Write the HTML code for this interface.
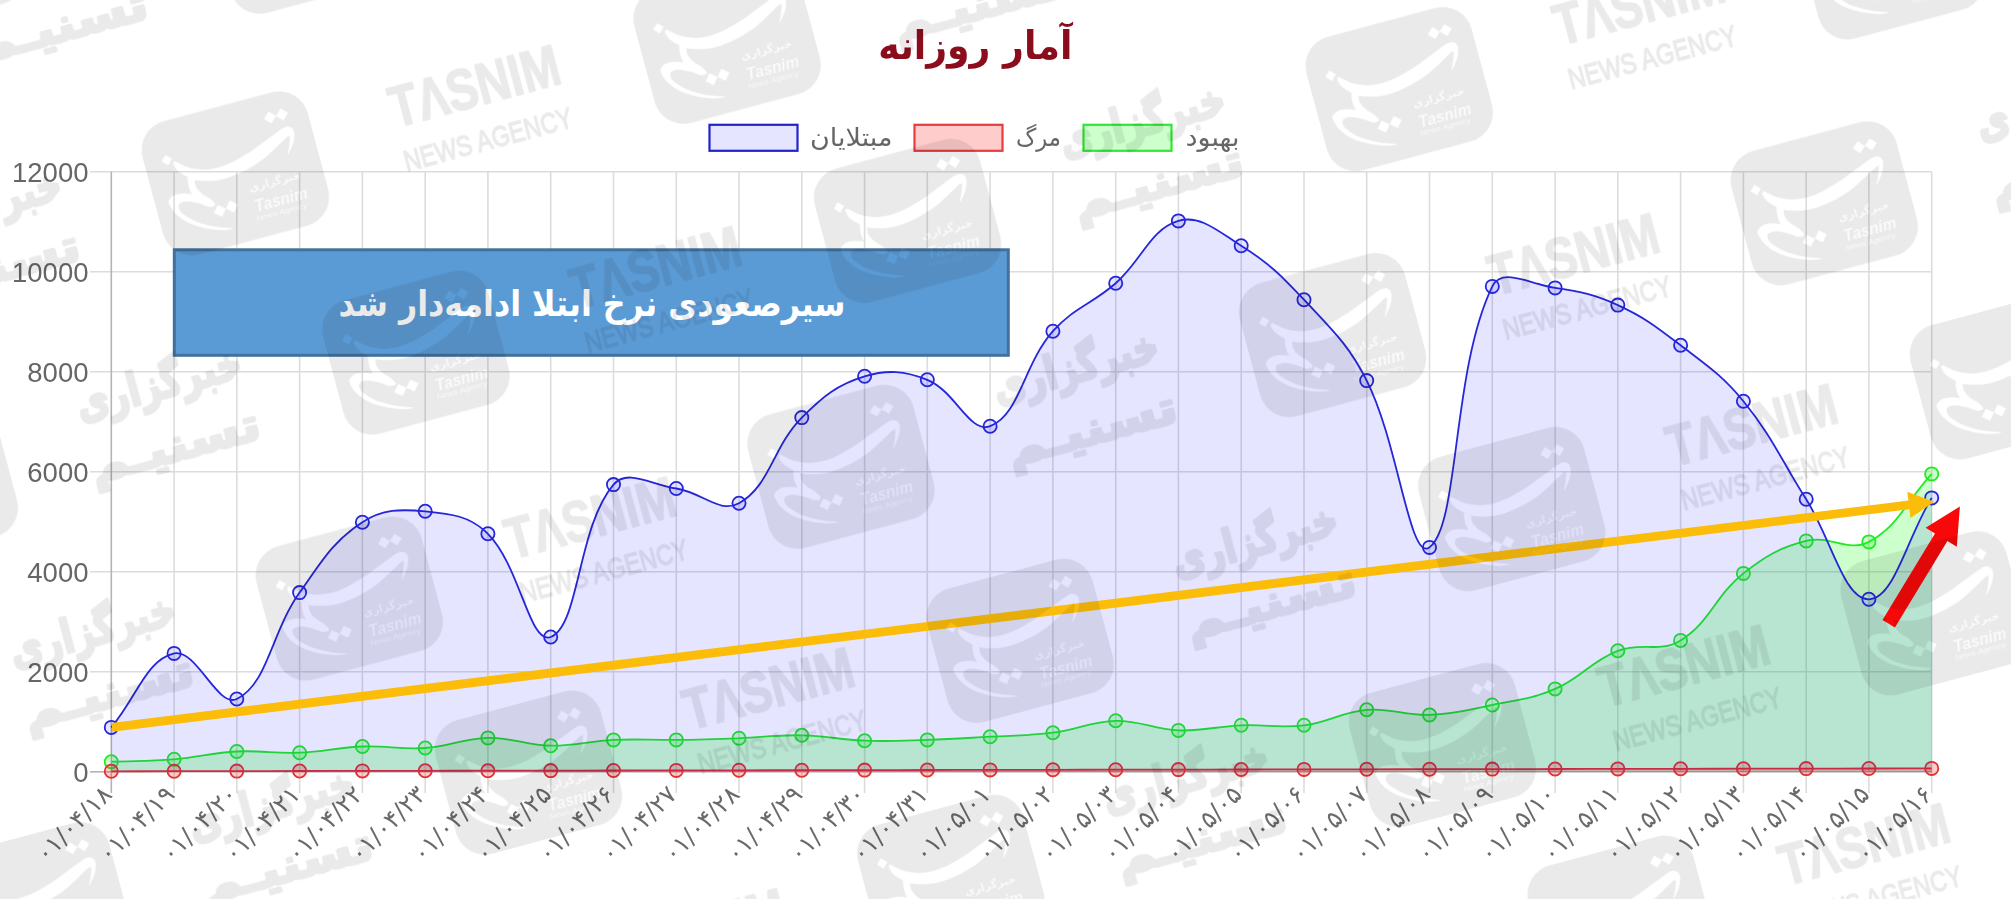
<!DOCTYPE html>
<html lang="fa"><head><meta charset="utf-8"><title>آمار روزانه</title>
<style>html,body{margin:0;padding:0;background:#fff;overflow:hidden}svg{display:block}text{font-family:"Liberation Sans","DejaVu Sans",sans-serif}.fa{font-family:"DejaVu Sans","Liberation Sans",sans-serif}</style></head><body>
<svg width="2011" height="899" viewBox="0 0 2011 899">
<rect width="2011" height="899" fill="#fff"/>
<defs>
<mask id="lm" maskUnits="userSpaceOnUse" x="-95" y="-80" width="190" height="160"><rect x="-95" y="-80" width="190" height="160" fill="#fff"/><g fill="#000" stroke="none"><path d="M-55.4 -27.3C-53.1 -26.5 -48.2 -20.5 -43.4 -17.8C-38.6 -15.2 -32.8 -12.4 -26.5 -11.3C-20.3 -10.1 -13.4 -10.0 -5.9 -10.9C1.6 -11.8 10.6 -14.4 18.5 -16.8C26.4 -19.2 35.0 -23.1 41.6 -25.5C48.1 -28.0 53.7 -30.8 57.7 -31.6C61.6 -32.4 63.7 -31.7 65.3 -30.6C66.9 -29.5 67.7 -27.4 67.5 -24.8C67.3 -22.2 66.0 -18.4 64.0 -15.0C62.0 -11.6 56.3 -4.5 55.6 -4.4C54.8 -4.2 58.6 -11.3 59.6 -14.1C60.7 -16.9 62.0 -20.0 62.0 -21.3C62.0 -22.6 62.2 -23.0 59.7 -21.9C57.2 -20.9 52.3 -17.7 47.0 -15.0C41.7 -12.2 34.8 -8.1 27.9 -5.6C21.0 -3.0 12.8 -0.8 5.6 0.5C-1.7 1.8 -9.1 2.5 -15.6 2.2C-22.1 2.0 -28.7 0.1 -33.3 -1.3C-38.0 -2.6 -40.1 -3.7 -43.5 -6.0C-46.8 -8.4 -51.1 -12.6 -53.4 -15.3C-55.7 -18.1 -56.7 -20.6 -57.1 -22.5C-57.4 -24.5 -57.7 -28.1 -55.4 -27.3Z M-46.8 -9.0C-45.6 -10.7 -41.9 -9.4 -41.0 -7.5C-40.1 -5.6 -42.1 -0.7 -41.6 2.3C-41.0 5.4 -39.2 8.2 -37.6 10.7C-35.9 13.1 -33.3 14.7 -31.6 17.0C-29.9 19.4 -27.0 23.4 -27.5 24.8C-27.9 26.2 -32.1 26.5 -34.3 25.4C-36.5 24.3 -38.6 20.5 -40.6 18.1C-42.6 15.8 -44.8 14.1 -46.1 11.5C-47.4 8.9 -48.3 6.0 -48.5 2.6C-48.6 -0.9 -48.1 -7.3 -46.8 -9.0Z M-71.3 8.9C-70.2 7.4 -67.7 5.9 -65.2 5.3C-62.6 4.8 -59.4 4.9 -55.9 5.7C-52.5 6.5 -48.2 8.3 -44.7 10.2C-41.2 12.1 -37.8 14.5 -35.1 16.9C-32.5 19.3 -29.0 23.0 -28.8 24.4C-28.6 25.8 -31.5 26.3 -33.9 25.5C-36.3 24.7 -39.7 21.4 -43.1 19.6C-46.4 17.7 -51.0 15.3 -54.1 14.5C-57.3 13.8 -60.7 13.9 -62.2 15.1C-63.7 16.2 -63.9 19.1 -63.2 21.4C-62.6 23.7 -60.6 26.3 -58.0 29.0C-55.5 31.8 -52.4 35.0 -48.0 37.9C-43.6 40.9 -37.0 44.4 -31.7 46.8C-26.4 49.3 -17.1 51.9 -16.3 52.6C-15.5 53.4 -22.2 52.8 -26.7 51.5C-31.3 50.2 -38.3 47.6 -43.6 44.9C-48.9 42.2 -54.6 38.6 -58.6 35.1C-62.7 31.6 -65.9 27.4 -68.0 23.8C-70.2 20.3 -71.1 16.5 -71.6 14.0C-72.2 11.5 -72.4 10.3 -71.3 8.9Z M-57.4 -30.7L-62.8 -25.3L-68.2 -30.7L-62.8 -36.1Z M54.1 -45.1L47.8 -39.0L41.7 -45.3L48.0 -51.4Z M66.5 -44.9L60.1 -38.8L54.0 -45.1L60.4 -51.2Z M-18.3 31.6L-24.1 38.5L-31.1 32.7L-25.2 25.8Z M-5.6 30.4L-11.4 37.4L-18.3 31.6L-12.5 24.6Z"/><g fill="#333"><text class="fa" x="35.9" y="21.9" font-size="11" font-weight="bold" text-anchor="middle">خبرگزاری</text><text x="37.3" y="42.9" font-size="17" font-weight="bold" font-style="italic" text-anchor="middle" textLength="54" lengthAdjust="spacingAndGlyphs">Tasnim</text><text x="34.7" y="51.1" font-size="8" font-style="italic" text-anchor="middle" textLength="52" lengthAdjust="spacingAndGlyphs">News Agency</text></g></g></mask>
<g id="lg"><path mask="url(#lm)" stroke="none" d="M-55.5 -69.0H55.5A30 30 0 0 1 85.5 -39.0V39.0A30 30 0 0 1 55.5 69.0H-55.5A30 30 0 0 1 -85.5 39.0V-39.0A30 30 0 0 1 -55.5 -69.0Z"/></g>
<g id="en" stroke-linejoin="round"><text x="-83" y="-2" font-size="58" font-weight="bold" textLength="174" lengthAdjust="spacingAndGlyphs" stroke-width="1.6">TΛSNIM</text><text x="-83.5" y="43" font-size="29.5" textLength="173.5" lengthAdjust="spacingAndGlyphs" stroke-width="1.3">NEWS AGENCY</text></g>
<g id="pe" class="fa" font-weight="bold" font-size="46" stroke-width="3" stroke-linejoin="round"><text x="-1" y="-21" text-anchor="middle" textLength="170" lengthAdjust="spacingAndGlyphs">خبرگزاری</text><text x="-1.5" y="43" text-anchor="middle" textLength="175" lengthAdjust="spacingAndGlyphs">تسنیـم</text></g>
<filter id="softw" x="-400" y="-100" width="2800" height="1700" filterUnits="userSpaceOnUse"><feGaussianBlur stdDeviation="0.7"/></filter></defs>
<filter id="soft" x="0" y="0" width="2011" height="899" filterUnits="userSpaceOnUse"><feGaussianBlur stdDeviation="0.6"/></filter>
<g id="chart" filter="url(#soft)">
<line x1="90" y1="771.8" x2="1931.7" y2="771.8" stroke="#dcdcdc" stroke-width="1.6"/>
<line x1="90" y1="671.8" x2="1931.7" y2="671.8" stroke="#dcdcdc" stroke-width="1.6"/>
<line x1="90" y1="571.8" x2="1931.7" y2="571.8" stroke="#dcdcdc" stroke-width="1.6"/>
<line x1="90" y1="471.8" x2="1931.7" y2="471.8" stroke="#dcdcdc" stroke-width="1.6"/>
<line x1="90" y1="371.8" x2="1931.7" y2="371.8" stroke="#dcdcdc" stroke-width="1.6"/>
<line x1="90" y1="271.8" x2="1931.7" y2="271.8" stroke="#dcdcdc" stroke-width="1.6"/>
<line x1="90" y1="171.8" x2="1931.7" y2="171.8" stroke="#dcdcdc" stroke-width="1.6"/>
<line x1="111.3" y1="171.8" x2="111.3" y2="793" stroke="#b4b4b4" stroke-width="1.6"/>
<line x1="174.1" y1="171.8" x2="174.1" y2="793" stroke="#dcdcdc" stroke-width="1.6"/>
<line x1="236.8" y1="171.8" x2="236.8" y2="793" stroke="#dcdcdc" stroke-width="1.6"/>
<line x1="299.6" y1="171.8" x2="299.6" y2="793" stroke="#dcdcdc" stroke-width="1.6"/>
<line x1="362.4" y1="171.8" x2="362.4" y2="793" stroke="#dcdcdc" stroke-width="1.6"/>
<line x1="425.2" y1="171.8" x2="425.2" y2="793" stroke="#dcdcdc" stroke-width="1.6"/>
<line x1="487.9" y1="171.8" x2="487.9" y2="793" stroke="#dcdcdc" stroke-width="1.6"/>
<line x1="550.7" y1="171.8" x2="550.7" y2="793" stroke="#dcdcdc" stroke-width="1.6"/>
<line x1="613.5" y1="171.8" x2="613.5" y2="793" stroke="#dcdcdc" stroke-width="1.6"/>
<line x1="676.3" y1="171.8" x2="676.3" y2="793" stroke="#dcdcdc" stroke-width="1.6"/>
<line x1="739.0" y1="171.8" x2="739.0" y2="793" stroke="#dcdcdc" stroke-width="1.6"/>
<line x1="801.8" y1="171.8" x2="801.8" y2="793" stroke="#dcdcdc" stroke-width="1.6"/>
<line x1="864.6" y1="171.8" x2="864.6" y2="793" stroke="#dcdcdc" stroke-width="1.6"/>
<line x1="927.3" y1="171.8" x2="927.3" y2="793" stroke="#dcdcdc" stroke-width="1.6"/>
<line x1="990.1" y1="171.8" x2="990.1" y2="793" stroke="#dcdcdc" stroke-width="1.6"/>
<line x1="1052.9" y1="171.8" x2="1052.9" y2="793" stroke="#dcdcdc" stroke-width="1.6"/>
<line x1="1115.7" y1="171.8" x2="1115.7" y2="793" stroke="#dcdcdc" stroke-width="1.6"/>
<line x1="1178.4" y1="171.8" x2="1178.4" y2="793" stroke="#dcdcdc" stroke-width="1.6"/>
<line x1="1241.2" y1="171.8" x2="1241.2" y2="793" stroke="#dcdcdc" stroke-width="1.6"/>
<line x1="1304.0" y1="171.8" x2="1304.0" y2="793" stroke="#dcdcdc" stroke-width="1.6"/>
<line x1="1366.7" y1="171.8" x2="1366.7" y2="793" stroke="#dcdcdc" stroke-width="1.6"/>
<line x1="1429.5" y1="171.8" x2="1429.5" y2="793" stroke="#dcdcdc" stroke-width="1.6"/>
<line x1="1492.3" y1="171.8" x2="1492.3" y2="793" stroke="#dcdcdc" stroke-width="1.6"/>
<line x1="1555.1" y1="171.8" x2="1555.1" y2="793" stroke="#dcdcdc" stroke-width="1.6"/>
<line x1="1617.8" y1="171.8" x2="1617.8" y2="793" stroke="#dcdcdc" stroke-width="1.6"/>
<line x1="1680.6" y1="171.8" x2="1680.6" y2="793" stroke="#dcdcdc" stroke-width="1.6"/>
<line x1="1743.4" y1="171.8" x2="1743.4" y2="793" stroke="#dcdcdc" stroke-width="1.6"/>
<line x1="1806.2" y1="171.8" x2="1806.2" y2="793" stroke="#dcdcdc" stroke-width="1.6"/>
<line x1="1868.9" y1="171.8" x2="1868.9" y2="793" stroke="#dcdcdc" stroke-width="1.6"/>
<line x1="1931.7" y1="171.8" x2="1931.7" y2="793" stroke="#dcdcdc" stroke-width="1.6"/>
<line x1="90" y1="771.8" x2="1931.7" y2="771.8" stroke="#b4b4b4" stroke-width="1.6"/>
<text x="88.5" y="781.5" font-size="27.5" fill="#666" text-anchor="end">0</text>
<text x="88.5" y="681.5" font-size="27.5" fill="#666" text-anchor="end">2000</text>
<text x="88.5" y="581.5" font-size="27.5" fill="#666" text-anchor="end">4000</text>
<text x="88.5" y="481.5" font-size="27.5" fill="#666" text-anchor="end">6000</text>
<text x="88.5" y="381.5" font-size="27.5" fill="#666" text-anchor="end">8000</text>
<text x="88.5" y="281.5" font-size="27.5" fill="#666" text-anchor="end">10000</text>
<text x="88.5" y="181.5" font-size="27.5" fill="#666" text-anchor="end">12000</text>
<text class="fa" transform="translate(107.3 790) rotate(-45)" font-size="24.5" letter-spacing="0.6" fill="#6a6a6a" text-anchor="end" dominant-baseline="central" direction="ltr">۰۱/۰۴/۱۸</text>
<text class="fa" transform="translate(170.1 790) rotate(-45)" font-size="24.5" letter-spacing="0.6" fill="#6a6a6a" text-anchor="end" dominant-baseline="central" direction="ltr">۰۱/۰۴/۱۹</text>
<text class="fa" transform="translate(232.8 790) rotate(-45)" font-size="24.5" letter-spacing="0.6" fill="#6a6a6a" text-anchor="end" dominant-baseline="central" direction="ltr">۰۱/۰۴/۲۰</text>
<text class="fa" transform="translate(295.6 790) rotate(-45)" font-size="24.5" letter-spacing="0.6" fill="#6a6a6a" text-anchor="end" dominant-baseline="central" direction="ltr">۰۱/۰۴/۲۱</text>
<text class="fa" transform="translate(358.4 790) rotate(-45)" font-size="24.5" letter-spacing="0.6" fill="#6a6a6a" text-anchor="end" dominant-baseline="central" direction="ltr">۰۱/۰۴/۲۲</text>
<text class="fa" transform="translate(421.2 790) rotate(-45)" font-size="24.5" letter-spacing="0.6" fill="#6a6a6a" text-anchor="end" dominant-baseline="central" direction="ltr">۰۱/۰۴/۲۳</text>
<text class="fa" transform="translate(483.9 790) rotate(-45)" font-size="24.5" letter-spacing="0.6" fill="#6a6a6a" text-anchor="end" dominant-baseline="central" direction="ltr">۰۱/۰۴/۲۴</text>
<text class="fa" transform="translate(546.7 790) rotate(-45)" font-size="24.5" letter-spacing="0.6" fill="#6a6a6a" text-anchor="end" dominant-baseline="central" direction="ltr">۰۱/۰۴/۲۵</text>
<text class="fa" transform="translate(609.5 790) rotate(-45)" font-size="24.5" letter-spacing="0.6" fill="#6a6a6a" text-anchor="end" dominant-baseline="central" direction="ltr">۰۱/۰۴/۲۶</text>
<text class="fa" transform="translate(672.3 790) rotate(-45)" font-size="24.5" letter-spacing="0.6" fill="#6a6a6a" text-anchor="end" dominant-baseline="central" direction="ltr">۰۱/۰۴/۲۷</text>
<text class="fa" transform="translate(735.0 790) rotate(-45)" font-size="24.5" letter-spacing="0.6" fill="#6a6a6a" text-anchor="end" dominant-baseline="central" direction="ltr">۰۱/۰۴/۲۸</text>
<text class="fa" transform="translate(797.8 790) rotate(-45)" font-size="24.5" letter-spacing="0.6" fill="#6a6a6a" text-anchor="end" dominant-baseline="central" direction="ltr">۰۱/۰۴/۲۹</text>
<text class="fa" transform="translate(860.6 790) rotate(-45)" font-size="24.5" letter-spacing="0.6" fill="#6a6a6a" text-anchor="end" dominant-baseline="central" direction="ltr">۰۱/۰۴/۳۰</text>
<text class="fa" transform="translate(923.3 790) rotate(-45)" font-size="24.5" letter-spacing="0.6" fill="#6a6a6a" text-anchor="end" dominant-baseline="central" direction="ltr">۰۱/۰۴/۳۱</text>
<text class="fa" transform="translate(986.1 790) rotate(-45)" font-size="24.5" letter-spacing="0.6" fill="#6a6a6a" text-anchor="end" dominant-baseline="central" direction="ltr">۰۱/۰۵/۰۱</text>
<text class="fa" transform="translate(1048.9 790) rotate(-45)" font-size="24.5" letter-spacing="0.6" fill="#6a6a6a" text-anchor="end" dominant-baseline="central" direction="ltr">۰۱/۰۵/۰۲</text>
<text class="fa" transform="translate(1111.7 790) rotate(-45)" font-size="24.5" letter-spacing="0.6" fill="#6a6a6a" text-anchor="end" dominant-baseline="central" direction="ltr">۰۱/۰۵/۰۳</text>
<text class="fa" transform="translate(1174.4 790) rotate(-45)" font-size="24.5" letter-spacing="0.6" fill="#6a6a6a" text-anchor="end" dominant-baseline="central" direction="ltr">۰۱/۰۵/۰۴</text>
<text class="fa" transform="translate(1237.2 790) rotate(-45)" font-size="24.5" letter-spacing="0.6" fill="#6a6a6a" text-anchor="end" dominant-baseline="central" direction="ltr">۰۱/۰۵/۰۵</text>
<text class="fa" transform="translate(1300.0 790) rotate(-45)" font-size="24.5" letter-spacing="0.6" fill="#6a6a6a" text-anchor="end" dominant-baseline="central" direction="ltr">۰۱/۰۵/۰۶</text>
<text class="fa" transform="translate(1362.7 790) rotate(-45)" font-size="24.5" letter-spacing="0.6" fill="#6a6a6a" text-anchor="end" dominant-baseline="central" direction="ltr">۰۱/۰۵/۰۷</text>
<text class="fa" transform="translate(1425.5 790) rotate(-45)" font-size="24.5" letter-spacing="0.6" fill="#6a6a6a" text-anchor="end" dominant-baseline="central" direction="ltr">۰۱/۰۵/۰۸</text>
<text class="fa" transform="translate(1488.3 790) rotate(-45)" font-size="24.5" letter-spacing="0.6" fill="#6a6a6a" text-anchor="end" dominant-baseline="central" direction="ltr">۰۱/۰۵/۰۹</text>
<text class="fa" transform="translate(1551.1 790) rotate(-45)" font-size="24.5" letter-spacing="0.6" fill="#6a6a6a" text-anchor="end" dominant-baseline="central" direction="ltr">۰۱/۰۵/۱۰</text>
<text class="fa" transform="translate(1613.8 790) rotate(-45)" font-size="24.5" letter-spacing="0.6" fill="#6a6a6a" text-anchor="end" dominant-baseline="central" direction="ltr">۰۱/۰۵/۱۱</text>
<text class="fa" transform="translate(1676.6 790) rotate(-45)" font-size="24.5" letter-spacing="0.6" fill="#6a6a6a" text-anchor="end" dominant-baseline="central" direction="ltr">۰۱/۰۵/۱۲</text>
<text class="fa" transform="translate(1739.4 790) rotate(-45)" font-size="24.5" letter-spacing="0.6" fill="#6a6a6a" text-anchor="end" dominant-baseline="central" direction="ltr">۰۱/۰۵/۱۳</text>
<text class="fa" transform="translate(1802.2 790) rotate(-45)" font-size="24.5" letter-spacing="0.6" fill="#6a6a6a" text-anchor="end" dominant-baseline="central" direction="ltr">۰۱/۰۵/۱۴</text>
<text class="fa" transform="translate(1864.9 790) rotate(-45)" font-size="24.5" letter-spacing="0.6" fill="#6a6a6a" text-anchor="end" dominant-baseline="central" direction="ltr">۰۱/۰۵/۱۵</text>
<text class="fa" transform="translate(1927.7 790) rotate(-45)" font-size="24.5" letter-spacing="0.6" fill="#6a6a6a" text-anchor="end" dominant-baseline="central" direction="ltr">۰۱/۰۵/۱۶</text>
<path d="M111.3 761.7 C136.4 760.7 149.1 761.3 174.1 759.3 C199.3 757.3 211.6 752.8 236.8 751.5 C261.9 750.2 274.6 753.7 299.6 752.7 C324.8 751.7 337.2 747.4 362.4 746.5 C387.4 745.6 400.2 749.7 425.2 748.0 C450.4 746.3 462.8 738.4 487.9 737.9 C513.0 737.4 525.6 745.3 550.7 745.7 C575.8 746.1 588.3 741.1 613.5 739.9 C638.5 738.7 651.1 740.2 676.3 739.9 C701.4 739.6 713.9 739.2 739.0 738.3 C764.1 737.4 776.7 734.8 801.8 735.3 C826.9 735.8 839.4 739.8 864.6 740.7 C889.6 741.6 902.2 740.7 927.3 739.9 C952.5 739.1 965.0 738.1 990.1 736.7 C1015.2 735.3 1028.0 735.9 1052.9 732.7 C1078.2 729.5 1090.5 721.3 1115.7 720.8 C1140.7 720.3 1153.2 729.5 1178.4 730.4 C1203.4 731.3 1216.1 726.3 1241.2 725.3 C1266.3 724.3 1279.2 728.4 1304.0 725.3 C1329.5 722.2 1341.3 711.9 1366.7 709.8 C1391.5 707.7 1404.5 715.9 1429.5 714.9 C1454.7 713.9 1467.4 710.1 1492.3 705.0 C1517.6 699.7 1531.5 699.1 1555.1 688.9 C1581.7 677.4 1590.9 661.2 1617.8 650.8 C1641.2 641.8 1660.1 653.1 1680.6 640.4 C1710.3 622.1 1715.0 595.9 1743.4 573.4 C1765.2 556.1 1779.6 547.6 1806.2 540.9 C1829.8 535.0 1848.6 552.7 1868.9 541.9 C1898.8 525.9 1906.6 501.1 1931.7 473.9 L1931.7 771.8 L111.3 771.8 Z" fill="rgba(0,255,0,0.2)" stroke="none"/>
<path d="M111.3 761.7 C136.4 760.7 149.1 761.3 174.1 759.3 C199.3 757.3 211.6 752.8 236.8 751.5 C261.9 750.2 274.6 753.7 299.6 752.7 C324.8 751.7 337.2 747.4 362.4 746.5 C387.4 745.6 400.2 749.7 425.2 748.0 C450.4 746.3 462.8 738.4 487.9 737.9 C513.0 737.4 525.6 745.3 550.7 745.7 C575.8 746.1 588.3 741.1 613.5 739.9 C638.5 738.7 651.1 740.2 676.3 739.9 C701.4 739.6 713.9 739.2 739.0 738.3 C764.1 737.4 776.7 734.8 801.8 735.3 C826.9 735.8 839.4 739.8 864.6 740.7 C889.6 741.6 902.2 740.7 927.3 739.9 C952.5 739.1 965.0 738.1 990.1 736.7 C1015.2 735.3 1028.0 735.9 1052.9 732.7 C1078.2 729.5 1090.5 721.3 1115.7 720.8 C1140.7 720.3 1153.2 729.5 1178.4 730.4 C1203.4 731.3 1216.1 726.3 1241.2 725.3 C1266.3 724.3 1279.2 728.4 1304.0 725.3 C1329.5 722.2 1341.3 711.9 1366.7 709.8 C1391.5 707.7 1404.5 715.9 1429.5 714.9 C1454.7 713.9 1467.4 710.1 1492.3 705.0 C1517.6 699.7 1531.5 699.1 1555.1 688.9 C1581.7 677.4 1590.9 661.2 1617.8 650.8 C1641.2 641.8 1660.1 653.1 1680.6 640.4 C1710.3 622.1 1715.0 595.9 1743.4 573.4 C1765.2 556.1 1779.6 547.6 1806.2 540.9 C1829.8 535.0 1848.6 552.7 1868.9 541.9 C1898.8 525.9 1906.6 501.1 1931.7 473.9" fill="none" stroke="#24ea24" stroke-width="1.8"/>
<g fill="rgba(0,255,0,0.2)" stroke="#24ea24" stroke-width="1.8"><circle cx="111.3" cy="761.7" r="6.6"/><circle cx="174.1" cy="759.3" r="6.6"/><circle cx="236.8" cy="751.5" r="6.6"/><circle cx="299.6" cy="752.7" r="6.6"/><circle cx="362.4" cy="746.5" r="6.6"/><circle cx="425.2" cy="748.0" r="6.6"/><circle cx="487.9" cy="737.9" r="6.6"/><circle cx="550.7" cy="745.7" r="6.6"/><circle cx="613.5" cy="739.9" r="6.6"/><circle cx="676.3" cy="739.9" r="6.6"/><circle cx="739.0" cy="738.3" r="6.6"/><circle cx="801.8" cy="735.3" r="6.6"/><circle cx="864.6" cy="740.7" r="6.6"/><circle cx="927.3" cy="739.9" r="6.6"/><circle cx="990.1" cy="736.7" r="6.6"/><circle cx="1052.9" cy="732.7" r="6.6"/><circle cx="1115.7" cy="720.8" r="6.6"/><circle cx="1178.4" cy="730.4" r="6.6"/><circle cx="1241.2" cy="725.3" r="6.6"/><circle cx="1304.0" cy="725.3" r="6.6"/><circle cx="1366.7" cy="709.8" r="6.6"/><circle cx="1429.5" cy="714.9" r="6.6"/><circle cx="1492.3" cy="705.0" r="6.6"/><circle cx="1555.1" cy="688.9" r="6.6"/><circle cx="1617.8" cy="650.8" r="6.6"/><circle cx="1680.6" cy="640.4" r="6.6"/><circle cx="1743.4" cy="573.4" r="6.6"/><circle cx="1806.2" cy="540.9" r="6.6"/><circle cx="1868.9" cy="541.9" r="6.6"/><circle cx="1931.7" cy="473.9" r="6.6"/></g>
<path d="M111.3 771.3 C136.4 771.3 149.0 771.2 174.1 771.2 C199.2 771.2 211.7 771.1 236.8 771.1 C262.0 771.1 274.5 771.0 299.6 771.0 C324.7 771.0 337.3 770.9 362.4 770.9 C387.5 770.9 400.1 770.8 425.2 770.8 C450.3 770.8 462.8 770.7 487.9 770.7 C513.0 770.7 525.6 770.6 550.7 770.6 C575.8 770.6 588.4 770.5 613.5 770.5 C638.6 770.5 651.1 770.4 676.3 770.4 C701.4 770.4 713.9 770.3 739.0 770.3 C764.1 770.3 776.7 770.2 801.8 770.2 C826.9 770.2 839.5 770.1 864.6 770.1 C889.7 770.1 902.2 770.0 927.3 770.0 C952.5 770.0 965.0 769.9 990.1 769.9 C1015.2 769.9 1027.8 769.8 1052.9 769.8 C1078.0 769.8 1090.5 769.7 1115.7 769.7 C1140.8 769.7 1153.3 769.6 1178.4 769.6 C1203.5 769.6 1216.1 769.5 1241.2 769.5 C1266.3 769.5 1278.9 769.4 1304.0 769.4 C1329.1 769.4 1341.6 769.3 1366.7 769.3 C1391.9 769.3 1404.4 769.2 1429.5 769.2 C1454.6 769.2 1467.2 769.1 1492.3 769.1 C1517.4 769.1 1530.0 769.0 1555.1 769.0 C1580.2 769.0 1592.7 768.9 1617.8 768.9 C1642.9 768.9 1655.5 768.8 1680.6 768.8 C1705.7 768.8 1718.3 768.7 1743.4 768.7 C1768.5 768.7 1781.0 768.6 1806.2 768.6 C1831.3 768.6 1843.8 768.5 1868.9 768.5 C1894.0 768.5 1906.6 768.4 1931.7 768.4 L1931.7 771.8 L111.3 771.8 Z" fill="rgba(255,0,0,0.2)" stroke="none"/>
<path d="M111.3 771.3 C136.4 771.3 149.0 771.2 174.1 771.2 C199.2 771.2 211.7 771.1 236.8 771.1 C262.0 771.1 274.5 771.0 299.6 771.0 C324.7 771.0 337.3 770.9 362.4 770.9 C387.5 770.9 400.1 770.8 425.2 770.8 C450.3 770.8 462.8 770.7 487.9 770.7 C513.0 770.7 525.6 770.6 550.7 770.6 C575.8 770.6 588.4 770.5 613.5 770.5 C638.6 770.5 651.1 770.4 676.3 770.4 C701.4 770.4 713.9 770.3 739.0 770.3 C764.1 770.3 776.7 770.2 801.8 770.2 C826.9 770.2 839.5 770.1 864.6 770.1 C889.7 770.1 902.2 770.0 927.3 770.0 C952.5 770.0 965.0 769.9 990.1 769.9 C1015.2 769.9 1027.8 769.8 1052.9 769.8 C1078.0 769.8 1090.5 769.7 1115.7 769.7 C1140.8 769.7 1153.3 769.6 1178.4 769.6 C1203.5 769.6 1216.1 769.5 1241.2 769.5 C1266.3 769.5 1278.9 769.4 1304.0 769.4 C1329.1 769.4 1341.6 769.3 1366.7 769.3 C1391.9 769.3 1404.4 769.2 1429.5 769.2 C1454.6 769.2 1467.2 769.1 1492.3 769.1 C1517.4 769.1 1530.0 769.0 1555.1 769.0 C1580.2 769.0 1592.7 768.9 1617.8 768.9 C1642.9 768.9 1655.5 768.8 1680.6 768.8 C1705.7 768.8 1718.3 768.7 1743.4 768.7 C1768.5 768.7 1781.0 768.6 1806.2 768.6 C1831.3 768.6 1843.8 768.5 1868.9 768.5 C1894.0 768.5 1906.6 768.4 1931.7 768.4" fill="none" stroke="#e23232" stroke-width="1.8"/>
<g fill="rgba(255,0,0,0.2)" stroke="#e23232" stroke-width="1.8"><circle cx="111.3" cy="771.3" r="6.6"/><circle cx="174.1" cy="771.2" r="6.6"/><circle cx="236.8" cy="771.1" r="6.6"/><circle cx="299.6" cy="771.0" r="6.6"/><circle cx="362.4" cy="770.9" r="6.6"/><circle cx="425.2" cy="770.8" r="6.6"/><circle cx="487.9" cy="770.7" r="6.6"/><circle cx="550.7" cy="770.6" r="6.6"/><circle cx="613.5" cy="770.5" r="6.6"/><circle cx="676.3" cy="770.4" r="6.6"/><circle cx="739.0" cy="770.3" r="6.6"/><circle cx="801.8" cy="770.2" r="6.6"/><circle cx="864.6" cy="770.1" r="6.6"/><circle cx="927.3" cy="770.0" r="6.6"/><circle cx="990.1" cy="769.9" r="6.6"/><circle cx="1052.9" cy="769.8" r="6.6"/><circle cx="1115.7" cy="769.7" r="6.6"/><circle cx="1178.4" cy="769.6" r="6.6"/><circle cx="1241.2" cy="769.5" r="6.6"/><circle cx="1304.0" cy="769.4" r="6.6"/><circle cx="1366.7" cy="769.3" r="6.6"/><circle cx="1429.5" cy="769.2" r="6.6"/><circle cx="1492.3" cy="769.1" r="6.6"/><circle cx="1555.1" cy="769.0" r="6.6"/><circle cx="1617.8" cy="768.9" r="6.6"/><circle cx="1680.6" cy="768.8" r="6.6"/><circle cx="1743.4" cy="768.7" r="6.6"/><circle cx="1806.2" cy="768.6" r="6.6"/><circle cx="1868.9" cy="768.5" r="6.6"/><circle cx="1931.7" cy="768.4" r="6.6"/></g>
<path d="M111.3 727.4 C136.4 697.8 146.2 659.7 174.1 653.4 C196.4 648.4 217.5 708.4 236.8 699.0 C267.7 684.1 271.1 632.7 299.6 592.6 C321.4 562.0 332.4 541.6 362.4 522.2 C382.6 509.1 400.6 509.0 425.2 511.3 C450.8 513.7 470.1 515.9 487.9 533.8 C520.3 566.2 529.5 645.3 550.7 637.0 C579.7 625.6 577.1 527.6 613.5 484.6 C627.3 468.2 651.5 484.8 676.3 488.5 C701.7 492.3 720.1 514.0 739.0 503.3 C770.3 485.7 772.4 447.4 801.8 417.6 C822.6 396.6 837.2 384.5 864.6 376.3 C887.4 369.4 904.9 370.9 927.3 379.8 C955.2 390.9 969.7 434.1 990.1 426.2 C1019.9 414.7 1023.2 365.0 1052.9 331.2 C1073.5 307.8 1092.0 304.0 1115.7 283.2 C1142.2 259.9 1150.0 229.4 1178.4 220.9 C1200.2 214.4 1218.6 231.6 1241.2 245.8 C1268.9 263.2 1281.5 275.6 1304.0 299.7 C1331.8 329.5 1348.4 344.4 1366.7 380.6 C1398.6 443.5 1409.5 562.4 1429.5 547.4 C1459.7 524.8 1451.6 370.5 1492.3 286.4 C1501.8 266.7 1530.4 284.2 1555.1 287.9 C1580.6 291.7 1594.4 294.4 1617.8 305.1 C1644.6 317.4 1657.0 327.2 1680.6 345.3 C1707.2 365.7 1722.3 375.4 1743.4 401.2 C1772.6 437.0 1781.2 460.0 1806.2 499.3 C1831.4 539.2 1843.9 599.6 1868.9 599.3 C1894.2 599.0 1906.6 538.5 1931.7 497.9 L1931.7 771.8 L111.3 771.8 Z" fill="rgba(0,0,255,0.1)" stroke="none"/>
<path d="M111.3 727.4 C136.4 697.8 146.2 659.7 174.1 653.4 C196.4 648.4 217.5 708.4 236.8 699.0 C267.7 684.1 271.1 632.7 299.6 592.6 C321.4 562.0 332.4 541.6 362.4 522.2 C382.6 509.1 400.6 509.0 425.2 511.3 C450.8 513.7 470.1 515.9 487.9 533.8 C520.3 566.2 529.5 645.3 550.7 637.0 C579.7 625.6 577.1 527.6 613.5 484.6 C627.3 468.2 651.5 484.8 676.3 488.5 C701.7 492.3 720.1 514.0 739.0 503.3 C770.3 485.7 772.4 447.4 801.8 417.6 C822.6 396.6 837.2 384.5 864.6 376.3 C887.4 369.4 904.9 370.9 927.3 379.8 C955.2 390.9 969.7 434.1 990.1 426.2 C1019.9 414.7 1023.2 365.0 1052.9 331.2 C1073.5 307.8 1092.0 304.0 1115.7 283.2 C1142.2 259.9 1150.0 229.4 1178.4 220.9 C1200.2 214.4 1218.6 231.6 1241.2 245.8 C1268.9 263.2 1281.5 275.6 1304.0 299.7 C1331.8 329.5 1348.4 344.4 1366.7 380.6 C1398.6 443.5 1409.5 562.4 1429.5 547.4 C1459.7 524.8 1451.6 370.5 1492.3 286.4 C1501.8 266.7 1530.4 284.2 1555.1 287.9 C1580.6 291.7 1594.4 294.4 1617.8 305.1 C1644.6 317.4 1657.0 327.2 1680.6 345.3 C1707.2 365.7 1722.3 375.4 1743.4 401.2 C1772.6 437.0 1781.2 460.0 1806.2 499.3 C1831.4 539.2 1843.9 599.6 1868.9 599.3 C1894.2 599.0 1906.6 538.5 1931.7 497.9" fill="none" stroke="#2626d9" stroke-width="1.8"/>
<g fill="rgba(0,0,255,0.1)" stroke="#2626d9" stroke-width="1.8"><circle cx="111.3" cy="727.4" r="6.6"/><circle cx="174.1" cy="653.4" r="6.6"/><circle cx="236.8" cy="699.0" r="6.6"/><circle cx="299.6" cy="592.6" r="6.6"/><circle cx="362.4" cy="522.2" r="6.6"/><circle cx="425.2" cy="511.3" r="6.6"/><circle cx="487.9" cy="533.8" r="6.6"/><circle cx="550.7" cy="637.0" r="6.6"/><circle cx="613.5" cy="484.6" r="6.6"/><circle cx="676.3" cy="488.5" r="6.6"/><circle cx="739.0" cy="503.3" r="6.6"/><circle cx="801.8" cy="417.6" r="6.6"/><circle cx="864.6" cy="376.3" r="6.6"/><circle cx="927.3" cy="379.8" r="6.6"/><circle cx="990.1" cy="426.2" r="6.6"/><circle cx="1052.9" cy="331.2" r="6.6"/><circle cx="1115.7" cy="283.2" r="6.6"/><circle cx="1178.4" cy="220.9" r="6.6"/><circle cx="1241.2" cy="245.8" r="6.6"/><circle cx="1304.0" cy="299.7" r="6.6"/><circle cx="1366.7" cy="380.6" r="6.6"/><circle cx="1429.5" cy="547.4" r="6.6"/><circle cx="1492.3" cy="286.4" r="6.6"/><circle cx="1555.1" cy="287.9" r="6.6"/><circle cx="1617.8" cy="305.1" r="6.6"/><circle cx="1680.6" cy="345.3" r="6.6"/><circle cx="1743.4" cy="401.2" r="6.6"/><circle cx="1806.2" cy="499.3" r="6.6"/><circle cx="1868.9" cy="599.3" r="6.6"/><circle cx="1931.7" cy="497.9" r="6.6"/></g>
<text class="fa" x="975.3" y="59" font-size="39" font-weight="bold" fill="#8b0a1e" text-anchor="middle" textLength="194" lengthAdjust="spacingAndGlyphs">آمار روزانه</text>
<rect x="709.5" y="124.8" width="88" height="26" fill="#e5e5ff" stroke="#2222cc" stroke-width="2.2"/>
<text class="fa" x="810.0" y="146" font-size="25" fill="#666" text-anchor="start" textLength="82.5" lengthAdjust="spacingAndGlyphs">مبتلایان</text>
<rect x="914.5" y="124.8" width="88" height="26" fill="#ffcccc" stroke="#e63c3c" stroke-width="2.2"/>
<text class="fa" x="1016.0" y="146" font-size="25" fill="#666" text-anchor="start" textLength="45.0" lengthAdjust="spacingAndGlyphs">مرگ</text>
<rect x="1083.5" y="124.8" width="88" height="26" fill="#ccffcc" stroke="#33e633" stroke-width="2.2"/>
<text class="fa" x="1185.5" y="146" font-size="25" fill="#666" text-anchor="start" textLength="54.0" lengthAdjust="spacingAndGlyphs">بهبود</text>
</g>
<rect x="174.3" y="249.8" width="834" height="105.5" fill="#5b9bd5" stroke="#41719c" stroke-width="3"/>
<text class="fa" x="592" y="316" font-size="36" font-weight="bold" fill="#fff" text-anchor="middle" textLength="507" lengthAdjust="spacingAndGlyphs">سیرصعودی نرخ ابتلا ادامه‌دار شد</text>
<polygon points="112.5,731.7 1909.4,509.3 1910.5,518.1 1934.2,501.8 1907.3,491.8 1908.4,500.6 111.5,722.9" fill="#fcbd0a"/>
<polygon points="1894.9,627.5 1947.4,541.0 1956.8,546.7 1959.9,506.5 1925.6,527.8 1935.0,533.5 1882.5,619.9" fill="#f80808"/>
<g id="wm" transform="rotate(-15)" fill="#000" stroke="#000" opacity="0.085" filter="url(#softw)">
<use href="#pe" x="55.0" y="12.5"/>
<use href="#lg" x="310.5" y="12.5"/>
<use href="#pe" x="-73.0" y="228.5"/>
<use href="#lg" x="182.5" y="228.5"/>
<use href="#en" x="432.0" y="227.7"/>
<use href="#lg" x="691.5" y="228.5"/>
<use href="#pe" x="945.0" y="228.5"/>
<use href="#lg" x="1200.5" y="228.5"/>
<use href="#lg" x="-198.5" y="448.2"/>
<use href="#pe" x="55.0" y="448.2"/>
<use href="#lg" x="310.5" y="448.2"/>
<use href="#en" x="560.0" y="450.0"/>
<use href="#lg" x="819.5" y="448.2"/>
<use href="#pe" x="1073.0" y="448.2"/>
<use href="#lg" x="1328.5" y="448.2"/>
<use href="#en" x="1578.0" y="450.0"/>
<use href="#lg" x="1837.5" y="448.2"/>
<use href="#pe" x="2091.0" y="448.2"/>
<use href="#pe" x="-73.0" y="668.6"/>
<use href="#lg" x="182.5" y="668.6"/>
<use href="#en" x="432.0" y="675.4"/>
<use href="#lg" x="691.5" y="668.6"/>
<use href="#pe" x="945.0" y="668.6"/>
<use href="#lg" x="1200.5" y="668.6"/>
<use href="#en" x="1450.0" y="675.4"/>
<use href="#lg" x="1709.5" y="668.6"/>
<use href="#pe" x="1963.0" y="668.6"/>
<use href="#lg" x="-198.5" y="883.0"/>
<use href="#pe" x="55.0" y="883.0"/>
<use href="#lg" x="310.5" y="883.0"/>
<use href="#en" x="560.0" y="885.9"/>
<use href="#lg" x="819.5" y="883.0"/>
<use href="#pe" x="1073.0" y="883.0"/>
<use href="#lg" x="1328.5" y="883.0"/>
<use href="#en" x="1578.0" y="885.9"/>
<use href="#lg" x="1837.5" y="883.0"/>
<use href="#lg" x="182.5" y="1093.0"/>
<use href="#en" x="432.0" y="1101.0"/>
<use href="#lg" x="691.5" y="1093.0"/>
<use href="#pe" x="945.0" y="1093.0"/>
<use href="#lg" x="1200.5" y="1093.0"/>
<use href="#en" x="1450.0" y="1101.0"/>
<use href="#lg" x="1709.5" y="1093.0"/>
<use href="#pe" x="1073.0" y="1306.0"/>
<use href="#lg" x="1328.5" y="1306.0"/>
<use href="#en" x="1578.0" y="1320.0"/>
<use href="#lg" x="1837.5" y="1306.0"/>
</g>
</svg></body></html>
